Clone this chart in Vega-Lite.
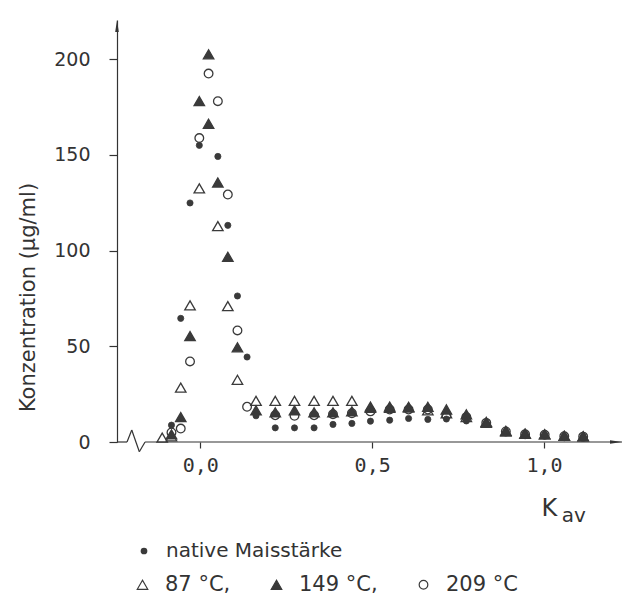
{
  "$schema": "https://vega.github.io/schema/vega-lite/v6.json",
  "autosize": {"type": "none"},
  "padding": {"left": 117, "top": 20, "right": 10, "bottom": 156},
  "width": 505,
  "height": 422,
  "background": "white",
  "config": {
    "font": "DejaVu Sans",
    "view": {"stroke": null},
    "axis": {"labelColor": "#333", "titleColor": "#333", "tickColor": "#333", "domainColor": "#333", "grid": false, "labelFont": "DejaVu Sans", "titleFont": "DejaVu Sans", "titleFontWeight": "normal"},
    "legend": {"labelFont": "DejaVu Sans", "labelColor": "#333", "labelLimit": 0}
  },
  "datasets": {
    "native": [
      {"s": "native Maisstärke", "x": -0.084, "y": 8.8},
      {"s": "native Maisstärke", "x": -0.057, "y": 64.6},
      {"s": "native Maisstärke", "x": -0.030, "y": 124.9},
      {"s": "native Maisstärke", "x": -0.003, "y": 155},
      {"s": "native Maisstärke", "x": 0.051, "y": 149.2},
      {"s": "native Maisstärke", "x": 0.080, "y": 113.2},
      {"s": "native Maisstärke", "x": 0.108, "y": 76.3},
      {"s": "native Maisstärke", "x": 0.136, "y": 44.4},
      {"s": "native Maisstärke", "x": 0.162, "y": 13.7},
      {"s": "native Maisstärke", "x": 0.218, "y": 7.4},
      {"s": "native Maisstärke", "x": 0.274, "y": 7.4},
      {"s": "native Maisstärke", "x": 0.331, "y": 7.4},
      {"s": "native Maisstärke", "x": 0.386, "y": 9.2},
      {"s": "native Maisstärke", "x": 0.441, "y": 9.7},
      {"s": "native Maisstärke", "x": 0.495, "y": 10.9},
      {"s": "native Maisstärke", "x": 0.551, "y": 11.4},
      {"s": "native Maisstärke", "x": 0.606, "y": 12.3},
      {"s": "native Maisstärke", "x": 0.662, "y": 11.8},
      {"s": "native Maisstärke", "x": 0.716, "y": 12},
      {"s": "native Maisstärke", "x": 0.774, "y": 11},
      {"s": "native Maisstärke", "x": 0.832, "y": 9.5},
      {"s": "native Maisstärke", "x": 0.889, "y": 5.5},
      {"s": "native Maisstärke", "x": 0.945, "y": 4.2},
      {"s": "native Maisstärke", "x": 1.002, "y": 3.8},
      {"s": "native Maisstärke", "x": 1.059, "y": 3},
      {"s": "native Maisstärke", "x": 1.114, "y": 2.8}
    ],
    "heated": [
      {"s": "87 °C", "x": -0.111, "y": 2.3},
      {"s": "87 °C", "x": -0.084, "y": 3},
      {"s": "87 °C", "x": -0.057, "y": 28.4},
      {"s": "87 °C", "x": -0.030, "y": 71.4},
      {"s": "87 °C", "x": -0.003, "y": 132.5},
      {"s": "87 °C", "x": 0.051, "y": 112.8},
      {"s": "87 °C", "x": 0.080, "y": 71},
      {"s": "87 °C", "x": 0.108, "y": 32.5},
      {"s": "87 °C", "x": 0.162, "y": 21.5},
      {"s": "87 °C", "x": 0.218, "y": 21.5},
      {"s": "87 °C", "x": 0.274, "y": 21.5},
      {"s": "87 °C", "x": 0.331, "y": 21.5},
      {"s": "87 °C", "x": 0.386, "y": 21.5},
      {"s": "87 °C", "x": 0.441, "y": 21.5},
      {"s": "87 °C", "x": 0.495, "y": 18.5},
      {"s": "87 °C", "x": 0.551, "y": 18.5},
      {"s": "87 °C", "x": 0.606, "y": 18},
      {"s": "87 °C", "x": 0.662, "y": 16.5},
      {"s": "87 °C", "x": 0.716, "y": 15},
      {"s": "87 °C", "x": 0.774, "y": 13},
      {"s": "87 °C", "x": 0.832, "y": 10},
      {"s": "87 °C", "x": 0.889, "y": 5.5},
      {"s": "87 °C", "x": 0.945, "y": 4.3},
      {"s": "87 °C", "x": 1.002, "y": 4},
      {"s": "87 °C", "x": 1.059, "y": 3.2},
      {"s": "87 °C", "x": 1.114, "y": 3},
      {"s": "209 °C", "x": -0.084, "y": 5},
      {"s": "209 °C", "x": -0.057, "y": 7},
      {"s": "209 °C", "x": -0.030, "y": 42.1},
      {"s": "209 °C", "x": -0.003, "y": 158.8},
      {"s": "209 °C", "x": 0.024, "y": 192.5},
      {"s": "209 °C", "x": 0.051, "y": 178.1},
      {"s": "209 °C", "x": 0.080, "y": 129.3},
      {"s": "209 °C", "x": 0.108, "y": 58.3},
      {"s": "209 °C", "x": 0.136, "y": 18.4},
      {"s": "209 °C", "x": 0.218, "y": 14},
      {"s": "209 °C", "x": 0.274, "y": 13.7},
      {"s": "209 °C", "x": 0.331, "y": 14},
      {"s": "209 °C", "x": 0.386, "y": 14.5},
      {"s": "209 °C", "x": 0.441, "y": 15},
      {"s": "209 °C", "x": 0.495, "y": 16},
      {"s": "209 °C", "x": 0.551, "y": 17},
      {"s": "209 °C", "x": 0.606, "y": 17},
      {"s": "209 °C", "x": 0.662, "y": 17},
      {"s": "209 °C", "x": 0.716, "y": 14},
      {"s": "209 °C", "x": 0.774, "y": 13},
      {"s": "209 °C", "x": 0.832, "y": 10},
      {"s": "209 °C", "x": 0.889, "y": 5.5},
      {"s": "209 °C", "x": 0.945, "y": 4},
      {"s": "209 °C", "x": 1.002, "y": 3.8},
      {"s": "209 °C", "x": 1.059, "y": 3},
      {"s": "209 °C", "x": 1.114, "y": 2.8},
      {"s": "149 °C", "x": -0.084, "y": 4},
      {"s": "149 °C", "x": -0.057, "y": 13},
      {"s": "149 °C", "x": -0.030, "y": 55.3},
      {"s": "149 °C", "x": -0.003, "y": 178.1},
      {"s": "149 °C", "x": 0.024, "y": 202.6},
      {"s": "149 °C", "x": 0.024, "y": 166.3},
      {"s": "149 °C", "x": 0.051, "y": 135.6},
      {"s": "149 °C", "x": 0.080, "y": 96.8},
      {"s": "149 °C", "x": 0.108, "y": 49.5},
      {"s": "149 °C", "x": 0.162, "y": 16.5},
      {"s": "149 °C", "x": 0.218, "y": 15.5},
      {"s": "149 °C", "x": 0.274, "y": 16.5},
      {"s": "149 °C", "x": 0.331, "y": 15.5},
      {"s": "149 °C", "x": 0.386, "y": 15.5},
      {"s": "149 °C", "x": 0.441, "y": 16},
      {"s": "149 °C", "x": 0.495, "y": 17.9},
      {"s": "149 °C", "x": 0.551, "y": 17.9},
      {"s": "149 °C", "x": 0.606, "y": 18.4},
      {"s": "149 °C", "x": 0.662, "y": 18.4},
      {"s": "149 °C", "x": 0.716, "y": 17},
      {"s": "149 °C", "x": 0.774, "y": 14.5},
      {"s": "149 °C", "x": 0.832, "y": 10.5},
      {"s": "149 °C", "x": 0.889, "y": 5.8},
      {"s": "149 °C", "x": 0.945, "y": 4.4},
      {"s": "149 °C", "x": 1.002, "y": 4},
      {"s": "149 °C", "x": 1.059, "y": 3.2},
      {"s": "149 °C", "x": 1.114, "y": 3}
    ],
    "one": [{}]
  },
  "encoding": {
    "x": {"type": "quantitative", "scale": {"domain": [-0.2425, 1.227], "nice": false, "zero": false}},
    "y": {"type": "quantitative", "scale": {"domain": [0, 220.5], "nice": false, "zero": false}}
  },
  "layer": [
    {
      "data": {"name": "heated"},
      "mark": {"type": "point", "filled": true, "stroke": "#3a3a3a", "strokeWidth": 1.3, "opacity": 1, "clip": false},
      "encoding": {
        "x": {"field": "x", "type": "quantitative", "axis": {
          "values": [0, 0.5, 1],
          "labelExpr": "replace(format(datum.value, '.1f'), '.', ',')",
          "domain": false,
          "tickSize": 6, "tickWidth": 1.2,
          "labelFont": "DejaVu Sans Mono",
          "labelFontSize": 20, "labelPadding": 7,
          "title": "K", "titleFontSize": 24, "titleAlign": "left", "titleBaseline": "alphabetic",
          "titleX": 424, "titleY": 73
        }},
        "y": {"field": "y", "type": "quantitative", "axis": {
          "values": [0, 50, 100, 150, 200],
          "domainWidth": 1.2, "tickSize": 8, "tickWidth": 1.2,
          "labelFontSize": 19, "labelPadding": 19,
          "title": "Konzentration (µg/ml)", "titleFontSize": 21,
          "titleBaseline": "middle", "titleAnchor": "middle",
          "titleX": -89, "titleY": 277
        }},
        "shape": {"field": "s", "type": "nominal", "scale": {"type": "ordinal", "domain": ["87 °C", "149 °C", "209 °C"], "range": ["triangle-up", "triangle-up", "circle"]},
          "legend": {"orient": "none", "direction": "horizontal", "legendX": 15, "legendY": 554, "title": null,
            "labelFontSize": 21, "labelOffset": 12, "columnPadding": 35,
            "labelExpr": "datum.label == '209 °C' ? datum.label : datum.label + ','",
            "symbolStrokeColor": "#3a3a3a", "symbolStrokeWidth": 1.2}},
        "fill": {"field": "s", "type": "nominal", "scale": {"type": "ordinal", "domain": ["87 °C", "149 °C", "209 °C"], "range": ["transparent", "#3a3a3a", "transparent"]}},
        "size": {"field": "s", "type": "nominal", "scale": {"type": "ordinal", "domain": ["87 °C", "149 °C", "209 °C"], "range": [110, 110, 75]}}
      }
    },
    {
      "data": {"name": "native"},
      "mark": {"type": "point", "filled": true, "stroke": "#3a3a3a", "strokeWidth": 0.8, "opacity": 1, "size": 38, "clip": false},
      "encoding": {
        "x": {"field": "x", "type": "quantitative"},
        "y": {"field": "y", "type": "quantitative"},
        "shape": {"field": "s", "type": "nominal", "scale": {"type": "ordinal", "domain": ["native Maisstärke"], "range": ["circle"]},
          "legend": {"orient": "none", "legendX": 17, "legendY": 521, "title": null, "labelFontSize": 20, "labelOffset": 12,
            "symbolStrokeColor": "#3a3a3a", "symbolSize": 45}},
        "fill": {"field": "s", "type": "nominal", "scale": {"type": "ordinal", "domain": ["native Maisstärke"], "range": ["#3a3a3a"]}}
      }
    },
    {
      "data": {"name": "one"},
      "mark": {"type": "rule", "color": "#333", "strokeWidth": 1.2, "clip": false},
      "encoding": {"x": {"datum": -0.2425}, "x2": {"datum": -0.2133}, "y": {"datum": 0}}
    },
    {
      "data": {"name": "one"},
      "mark": {"type": "rule", "color": "#333", "strokeWidth": 1.2, "clip": false},
      "encoding": {"x": {"datum": -0.1609}, "x2": {"datum": 1.227}, "y": {"datum": 0}}
    },
    {
      "data": {"name": "one"},
      "mark": {"type": "rule", "color": "#333", "strokeWidth": 1.2, "clip": false},
      "encoding": {"x": {"datum": -0.2133}, "x2": {"datum": -0.1996}, "y": {"datum": 0}, "y2": {"datum": 6.3}}
    },
    {
      "data": {"name": "one"},
      "mark": {"type": "rule", "color": "#333", "strokeWidth": 1.2, "clip": false},
      "encoding": {"x": {"datum": -0.1996}, "x2": {"datum": -0.1775}, "y": {"datum": 6.3}, "y2": {"datum": -5.1}}
    },
    {
      "data": {"name": "one"},
      "mark": {"type": "rule", "color": "#333", "strokeWidth": 1.2, "clip": false},
      "encoding": {"x": {"datum": -0.1775}, "x2": {"datum": -0.1609}, "y": {"datum": -5.1}, "y2": {"datum": 0}}
    },
    {
      "data": {"name": "one"},
      "mark": {"type": "point", "shape": "M0,0L-2,0.3L-2,-0.3Z", "size": 144, "filled": true, "color": "#333", "opacity": 1, "clip": false},
      "encoding": {"x": {"datum": 1.227}, "y": {"datum": 0}}
    },
    {
      "data": {"name": "one"},
      "mark": {"type": "point", "shape": "M0,0L0.3,2L-0.3,2Z", "size": 144, "filled": true, "color": "#333", "opacity": 1, "clip": false},
      "encoding": {"x": {"datum": -0.2425}, "y": {"datum": 220.5}}
    },
    {
      "data": {"name": "one"},
      "mark": {"type": "text", "fontSize": 20, "align": "left", "baseline": "alphabetic", "color": "#333", "font": "DejaVu Sans", "clip": false},
      "encoding": {"x": {"datum": 1.052}, "y": {"datum": -42}, "text": {"value": "av"}}
    }
  ],
  "resolve": {"scale": {"shape": "independent", "fill": "independent", "size": "independent"}}
}
